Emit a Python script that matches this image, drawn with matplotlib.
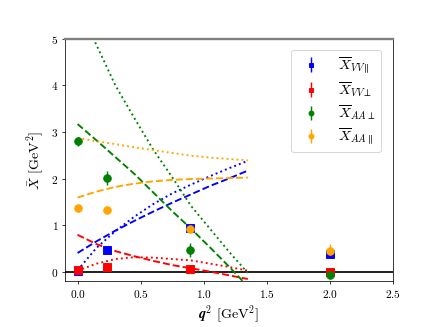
import matplotlib
matplotlib.use("Agg")
import matplotlib.pyplot as plt

plt.rcParams['font.family'] = 'serif'
plt.rcParams['font.serif'] = ['cmr10']
plt.rcParams['mathtext.fontset'] = 'cm'
plt.rcParams['axes.formatter.use_mathtext'] = True

# data points
q_pts = [0.0, 0.23, 0.89, 2.0]
vv_par = [0.02, 0.47, 0.93, 0.38]
vv_par_err = [0.02, 0.03, 0.03, 0.03]
vv_perp = [0.04, 0.09, 0.06, 0.0]
vv_perp_err = [0.02, 0.02, 0.02, 0.03]
aa_perp = [2.80, 2.01, 0.47, -0.08]
aa_perp_err = [0.10, 0.15, 0.15, 0.05]
aa_par = [1.36, 1.33, 0.91, 0.45]
aa_par_err = [0.04, 0.04, 0.05, 0.15]

# model curves
q_curve = [0.0, 0.15, 0.3, 0.45, 0.6, 0.75, 0.9, 1.05, 1.2, 1.35]
vv_par_dash = [0.40, 0.65, 0.88, 1.09, 1.29, 1.48, 1.66, 1.84, 2.00, 2.17]
vv_par_dot = [0.03, 0.51, 0.87, 1.18, 1.45, 1.68, 1.87, 2.05, 2.22, 2.38]
vv_perp_dash = [0.79, 0.59, 0.44, 0.33, 0.23, 0.14, 0.07, 0.0, -0.08, -0.16]
vv_perp_dot = [0.02, 0.17, 0.27, 0.31, 0.30, 0.27, 0.24, 0.17, 0.10, 0.02]
aa_perp_dash = [3.17, 2.82, 2.46, 2.10, 1.70, 1.30, 0.92, 0.52, 0.11, -0.32]
aa_perp_dot = [5.70, 4.87, 4.00, 3.30, 2.62, 2.03, 1.41, 0.92, 0.43, -0.03]
aa_par_dash = [1.59, 1.72, 1.82, 1.89, 1.94, 1.97, 1.99, 2.00, 2.01, 2.02]
aa_par_dot = [2.87, 2.80, 2.74, 2.67, 2.61, 2.55, 2.49, 2.45, 2.42, 2.39]

fig = plt.figure(figsize=(6.4, 4.8), dpi=68.125)
ax = fig.add_axes([0.149, 0.141, 0.752, 0.740])

ax.axhline(0, color='black', lw=1.8, zorder=1)

lw = 2.0
ax.plot(q_curve, vv_par_dash, '--', color='blue', lw=lw)
ax.plot(q_curve, vv_par_dot, ':', color='blue', lw=lw)
ax.plot(q_curve, vv_perp_dash, '--', color='red', lw=lw)
ax.plot(q_curve, vv_perp_dot, ':', color='red', lw=lw)
ax.plot(q_curve, aa_perp_dash, '--', color='green', lw=lw)
ax.plot(q_curve, aa_perp_dot, ':', color='green', lw=lw)
ax.plot(q_curve, aa_par_dash, '--', color='orange', lw=lw)
ax.plot(q_curve, aa_par_dot, ':', color='orange', lw=lw)

ms = 8
ax.errorbar(q_pts, vv_par, yerr=vv_par_err, fmt='s', color='blue', ms=ms,
            label=r'$\overline{X}_{VV\parallel}$')
ax.errorbar(q_pts, vv_perp, yerr=vv_perp_err, fmt='s', color='red', ms=ms,
            label=r'$\overline{X}_{VV\perp}$')
ax.errorbar(q_pts, aa_perp, yerr=aa_perp_err, fmt='o', color='green', ms=ms,
            label=r'$\overline{X}_{AA\perp}$')
ax.errorbar(q_pts, aa_par, yerr=aa_par_err, fmt='o', color='orange', ms=ms,
            label=r'$\overline{X}_{AA\parallel}$')

ax.set_xlim(-0.1, 2.5)
ax.set_ylim(-0.2, 5)
ax.set_xticks([0.0, 0.5, 1.0, 1.5, 2.0, 2.5])
ax.set_yticks([0, 1, 2, 3, 4, 5])
ax.tick_params(labelsize=12)
ax.spines['top'].set_color('gray')
ax.spines['top'].set_linewidth(2.5)

ax.set_xlabel(r'$\mathbfit{q}^2$ [GeV$^2$]', fontsize=15)
ax.set_ylabel(r'$\bar{X}$ [GeV$^2$]', fontsize=15)
ax.legend(loc='upper right', fontsize=15, borderpad=0.4, handletextpad=0.9,
          labelspacing=0.3, markerscale=0.65, bbox_to_anchor=(0.985, 0.985))

fig.savefig('out.png', dpi=68.125)
